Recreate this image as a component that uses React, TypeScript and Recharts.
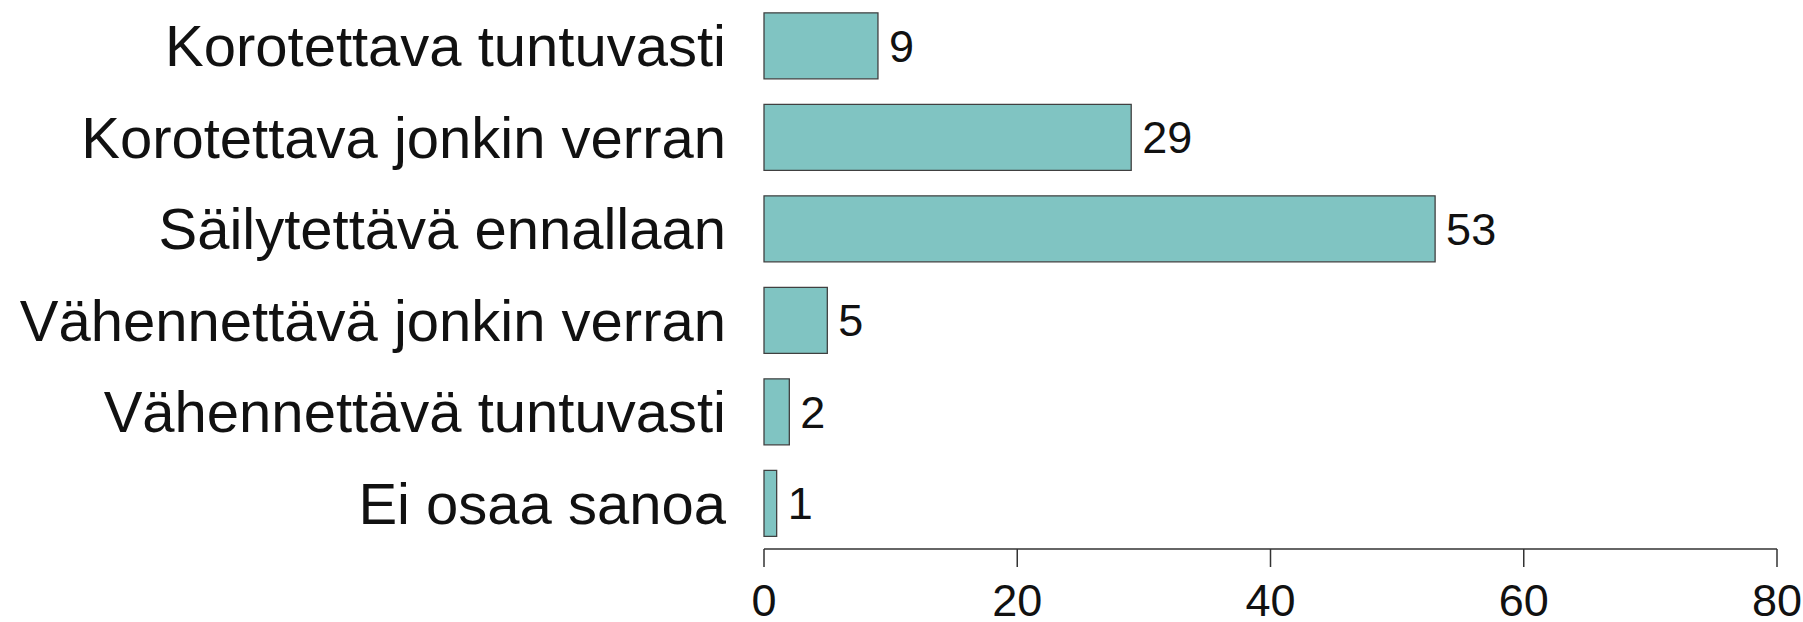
import { Bar, BarChart, LabelList, XAxis, YAxis } from "recharts"

const categories = [
  "Korotettava tuntuvasti",
  "Korotettava jonkin verran",
  "Säilytettävä ennallaan",
  "Vähennettävä jonkin verran",
  "Vähennettävä tuntuvasti",
  "Ei osaa sanoa",
]
const values = [9, 29, 53, 5, 2, 1]
const xTicks = [0, 20, 40, 60, 80]

const data = categories.map((name, i) => ({ name, value: values[i] }))

const font = "'Liberation Sans', Arial, Helvetica, sans-serif"

export default function App() {
  return (
    <div style={{ position: "absolute", left: 0, top: 0, background: "#fff" }}>
      <BarChart
        width={1803}
        height={622}
        data={data}
        layout="vertical"
        margin={{ top: 0, right: 26, bottom: 0, left: 0 }}
        barCategoryGap="14%"
      >
        <XAxis
          type="number"
          domain={[0, 80]}
          ticks={xTicks}
          height={73}
          tickSize={18}
          tickMargin={17}
          stroke="#333333"
          strokeWidth={1.5}
          tick={{ fill: "#111111", fontSize: 45, fontFamily: font }}
        />
        <YAxis
          type="category"
          dataKey="name"
          width={764}
          axisLine={false}
          tickLine={false}
          tickSize={0}
          tickMargin={38}
          interval={0}
          tick={{ fill: "#111111", fontSize: 58, fontFamily: font }}
        />
        <Bar dataKey="value" fill="#80c4c2" stroke="#404040" strokeWidth={1.3} isAnimationActive={false}>
          <LabelList
            dataKey="value"
            position="right"
            offset={11}
            fill="#111111"
            fontSize={45}
            fontFamily={font}
          />
        </Bar>
      </BarChart>
    </div>
  )
}
